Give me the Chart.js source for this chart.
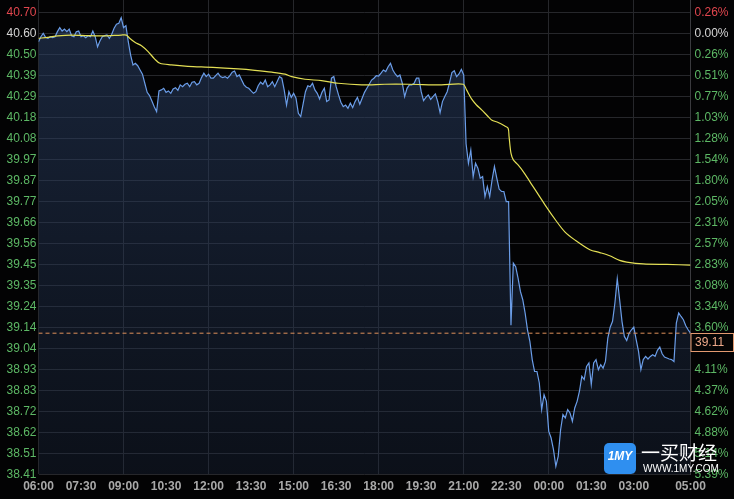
<!DOCTYPE html>
<html>
<head>
<meta charset="utf-8">
<script src="https://cdn.jsdelivr.net/npm/chart.js@4.4.1/dist/chart.umd.min.js"></script>
<style>
  html, body { margin: 0; padding: 0; background: #000; }
  #wrap { width: 734px; height: 499px; }
</style>
</head>
<body>
<div id="wrap"><canvas id="c" width="734" height="499"></canvas></div>
<script>
// ---------- DATA ----------
// Price sampled every 5 minutes from 06:00 to 05:00 next day
const sampleStepMinutes = 5;
const priceValues = [
  40.556, 40.581, 40.598, 40.578, 40.573, 40.581, 40.576, 40.581, 40.606, 40.626, 40.609, 40.619,
  40.606, 40.619, 40.586, 40.581, 40.606, 40.609, 40.581, 40.586, 40.576, 40.586, 40.581, 40.609,
  40.581, 40.531, 40.560, 40.581, 40.586, 40.590, 40.573, 40.593, 40.623, 40.643, 40.648, 40.675,
  40.626, 40.636, 40.556, 40.490, 40.441, 40.449, 40.437, 40.416, 40.395, 40.350, 40.305, 40.289,
  40.262, 40.234, 40.209, 40.312, 40.317, 40.325, 40.305, 40.312, 40.300, 40.322, 40.328, 40.315,
  40.342, 40.333, 40.345, 40.350, 40.333, 40.355, 40.358, 40.342, 40.350, 40.378, 40.400, 40.383,
  40.395, 40.375, 40.375, 40.388, 40.400, 40.383, 40.378, 40.383, 40.375, 40.388, 40.405, 40.411,
  40.383, 40.391, 40.366, 40.342, 40.330, 40.325, 40.312, 40.300, 40.308, 40.338, 40.355, 40.345,
  40.366, 40.333, 40.342, 40.358, 40.333, 40.358, 40.383, 40.375, 40.317, 40.242, 40.308, 40.280,
  40.300, 40.276, 40.201, 40.185, 40.246, 40.308, 40.338, 40.333, 40.350, 40.317, 40.300, 40.272,
  40.305, 40.325, 40.259, 40.267, 40.375, 40.383, 40.333, 40.292, 40.256, 40.234, 40.242, 40.226,
  40.251, 40.229, 40.259, 40.280, 40.246, 40.276, 40.305, 40.325, 40.345, 40.366, 40.375, 40.388,
  40.386, 40.400, 40.416, 40.408, 40.432, 40.449, 40.416, 40.396, 40.383, 40.391, 40.350, 40.284,
  40.325, 40.342, 40.342, 40.350, 40.375, 40.375, 40.308, 40.264, 40.280, 40.292, 40.270, 40.284,
  40.297, 40.259, 40.204, 40.259, 40.284, 40.308, 40.353, 40.403, 40.412, 40.383, 40.396, 40.419,
  40.391, 40.050, 39.953, 40.019, 39.887, 39.953, 39.929, 39.879, 39.887, 39.788, 39.837, 39.788,
  39.870, 39.937, 39.879, 39.825, 39.813, 39.813, 39.763, 39.763, 39.150, 39.458, 39.440, 39.383,
  39.317, 39.276, 39.210, 39.127, 39.070, 38.979, 38.920, 38.920, 38.863, 38.731, 38.805, 38.772,
  38.623, 38.590, 38.532, 38.450, 38.499, 38.630, 38.706, 38.690, 38.731, 38.714, 38.673, 38.739,
  38.772, 38.822, 38.896, 38.880, 38.945, 38.962, 38.855, 38.962, 38.979, 38.929, 38.954, 38.937,
  38.970, 39.086, 39.140, 39.169, 39.260, 39.380, 39.276, 39.169, 39.094, 39.074, 39.110, 39.127,
  39.140, 39.078, 39.020, 38.929, 38.979, 38.995, 38.982, 38.995, 39.003, 38.995, 39.025, 39.041,
  39.008, 38.992, 38.987, 38.982, 38.979, 38.969, 39.160, 39.210, 39.193, 39.177, 39.147, 39.127,
  39.110
];

// Average-price (yellow) line: minutes after 06:00 and values
const avgMinutes = [0, 20, 41, 69, 105, 140, 175, 186, 193, 204, 218, 232, 246, 257, 281, 316, 369,
  423, 458, 494, 522, 536, 564, 599, 634, 684, 733, 783, 853, 899, 906, 917, 927, 938, 952, 959,
  973, 987, 994, 996, 1000, 1005, 1015, 1026, 1040, 1072, 1097, 1114, 1135, 1167, 1188, 1209,
  1230, 1245, 1280, 1330, 1380];
const avgValues = [40.573, 40.578, 40.585, 40.589, 40.586, 40.585, 40.589, 40.589, 40.573, 40.553,
  40.536, 40.507, 40.470, 40.449, 40.441, 40.434, 40.429, 40.421, 40.414, 40.405, 40.395, 40.383,
  40.370, 40.363, 40.350, 40.342, 40.345, 40.345, 40.342, 40.345, 40.317, 40.271, 40.242, 40.218,
  40.184, 40.168, 40.155, 40.138, 40.127, 40.085, 40.003, 39.970, 39.945, 39.912, 39.862, 39.747,
  39.663, 39.613, 39.573, 39.524, 39.510, 39.494, 39.471, 39.463, 39.454, 39.451, 39.448];

// Axis ticks
const xTickMinutes = [0, 90, 180, 270, 360, 450, 540, 630, 720, 810, 900, 990, 1080, 1170, 1260, 1380];
const xTickLabels = ['06:00', '07:30', '09:00', '10:30', '12:00', '13:30', '15:00', '16:30', '18:00',
  '19:30', '21:00', '22:30', '00:00', '01:30', '03:00', '05:00'];
const leftTickLabels = ['40.70', '40.60', '40.50', '40.39', '40.29', '40.18', '40.08', '39.97', '39.87',
  '39.77', '39.66', '39.56', '39.45', '39.35', '39.24', '39.14', '39.04', '38.93', '38.83', '38.72',
  '38.62', '38.51', '38.41'];
const rightTickLabels = ['0.26%', '0.00%', '0.26%', '0.51%', '0.77%', '1.03%', '1.28%', '1.54%', '1.80%',
  '2.05%', '2.31%', '2.57%', '2.83%', '3.08%', '3.34%', '3.60%', '3.85%', '4.11%', '4.37%', '4.62%',
  '4.88%', '5.14%', '5.39%'];
const yTopTick = 40.702;
const yBottomTick = 38.41;

// ---------- CHART ----------
const lastPrice = priceValues[priceValues.length - 1];
const nTicks = leftTickLabels.length;
const tickStep = (yTopTick - yBottomTick) / (nTicks - 1);
const yMaxScale = yTopTick + 12.3 * (yTopTick - yBottomTick) / 462;

const C = {
  red: '#e0464e', white: '#d4d4d4', green: '#5db865',
  grid: '#26272b', price: '#6b9de8', avg: '#e3df55', last: '#e0925a'
};
function tickColor(idxFromBottom) {
  const k = nTicks - 1 - idxFromBottom;
  return k === 0 ? C.red : (k === 1 ? C.white : C.green);
}
function buildYTicks(scale) {
  const t = [];
  for (let k = 0; k < nTicks; k++) t.push({ value: yBottomTick + k * tickStep });
  scale.ticks = t;
}

const bgPlugin = {
  id: 'bg',
  beforeDraw(chart) {
    const c = chart.ctx;
    c.save();
    c.fillStyle = '#030304';
    c.fillRect(0, 0, chart.width, chart.height);
    c.restore();
  }
};

const overlayPlugin = {
  id: 'overlay',
  afterDraw(chart) {
    const c = chart.ctx;
    const ys = chart.scales.y;
    const area = chart.chartArea;
    const py = Math.round(ys.getPixelForValue(lastPrice)) + 0.5;
    // last price box
    c.save();
    c.fillStyle = '#050505';
    c.fillRect(area.right + 0.5, py, 43, 18);
    c.strokeStyle = '#e39a70';
    c.lineWidth = 1;
    c.strokeRect(area.right + 0.5, py, 42.5, 18);
    c.fillStyle = '#eea98a';
    c.font = '12px "Liberation Sans", Arial, sans-serif';
    c.textBaseline = 'middle';
    c.textAlign = 'left';
    c.fillText(lastPrice.toFixed(2), area.right + 4.5, py + 9.5);

    // watermark logo
    const lx = 604, ly = 443, lw = 32, lh = 31, r = 5;
    c.fillStyle = '#2f8ff0';
    c.beginPath();
    c.moveTo(lx + r, ly);
    c.arcTo(lx + lw, ly, lx + lw, ly + lh, r);
    c.arcTo(lx + lw, ly + lh, lx, ly + lh, r);
    c.arcTo(lx, ly + lh, lx, ly, r);
    c.arcTo(lx, ly, lx + lw, ly, r);
    c.closePath();
    c.fill();
    c.fillStyle = '#ffffff';
    c.font = 'italic bold 12px "Liberation Sans", Arial, sans-serif';
    c.textAlign = 'center';
    c.fillText('1MY', lx + lw / 2, ly + 14);
    c.font = '19px "Noto Sans CJK SC", sans-serif';
    c.textAlign = 'left';
    c.fillText('一买财经', 641, 453);
    c.font = '10px "Liberation Sans", Arial, sans-serif';
    c.fillText('WWW.1MY.COM', 643, 469);
    c.restore();
  }
};

const ctx = document.getElementById('c').getContext('2d');
new Chart(ctx, {
  type: 'line',
  data: {
    datasets: [
      {
        label: 'last',
        data: [{ x: 0, y: lastPrice }, { x: 1380, y: lastPrice }],
        borderColor: C.last,
        borderWidth: 1,
        borderDash: [4, 3],
        pointRadius: 0,
        fill: false,
        order: 0
      },
      {
        label: 'avg',
        data: avgMinutes.map((m, i) => ({ x: m, y: avgValues[i] })),
        borderColor: C.avg,
        borderWidth: 1.2,
        pointRadius: 0,
        tension: 0.3,
        fill: false,
        order: 1
      },
      {
        label: 'price',
        data: priceValues.map((v, i) => ({ x: i * sampleStepMinutes, y: v })),
        borderColor: C.price,
        borderWidth: 1.2,
        pointRadius: 0,
        tension: 0,
        fill: 'start',
        backgroundColor: (context) => {
          const chart = context.chart;
          const a = chart.chartArea;
          if (!a) return 'rgba(40,60,95,0.5)';
          const g = chart.ctx.createLinearGradient(0, a.top, 0, a.bottom);
          g.addColorStop(0, 'rgba(45,68,108,0.55)');
          g.addColorStop(1, 'rgba(30,44,70,0.32)');
          return g;
        },
        order: 2
      }
    ]
  },
  options: {
    responsive: false,
    devicePixelRatio: 1,
    animation: false,
    events: [],
    layout: { padding: 0 },
    plugins: { legend: { display: false }, tooltip: { enabled: false } },
    scales: {
      x: {
        type: 'linear',
        min: 0,
        max: 1380,
        afterBuildTicks: (s) => { s.ticks = xTickMinutes.map(v => ({ value: v })); },
        afterFit: (s) => { s.height = 24.7; s.paddingLeft = 0; s.paddingRight = 0; },
        ticks: {
          autoSkip: false,
          maxRotation: 0,
          padding: 5,
          color: '#a9a9a9',
          font: { family: '"Liberation Sans", Arial, sans-serif', size: 12, weight: 'bold' },
          callback: (v, i) => xTickLabels[i]
        },
        grid: {
          drawTicks: false,
          color: (c) => (c.tick && c.tick.value % 180 === 0) ? C.grid : 'rgba(0,0,0,0)'
        },
        border: { display: false }
      },
      y: {
        position: 'left',
        min: yBottomTick,
        max: yMaxScale,
        afterBuildTicks: buildYTicks,
        afterFit: (s) => { s.width = 38.5; s.paddingTop = 0; s.paddingBottom = 0; },
        ticks: {
          padding: 2,
          color: (c) => tickColor(c.index),
          font: { family: '"Liberation Sans", Arial, sans-serif', size: 12 },
          callback: (v, i) => leftTickLabels[nTicks - 1 - i]
        },
        grid: { drawTicks: false, color: C.grid },
        border: { display: false }
      },
      y1: {
        position: 'right',
        min: yBottomTick,
        max: yMaxScale,
        afterBuildTicks: buildYTicks,
        afterFit: (s) => { s.width = 43.5; s.paddingTop = 0; s.paddingBottom = 0; },
        ticks: {
          padding: 4,
          color: (c) => tickColor(c.index),
          font: { family: '"Liberation Sans", Arial, sans-serif', size: 12 },
          callback: (v, i) => rightTickLabels[nTicks - 1 - i]
        },
        grid: { display: false, drawTicks: false },
        border: { display: true, color: '#3a3a3e', width: 1 }
      }
    }
  },
  plugins: [bgPlugin, overlayPlugin]
});
</script>
</body>
</html>
